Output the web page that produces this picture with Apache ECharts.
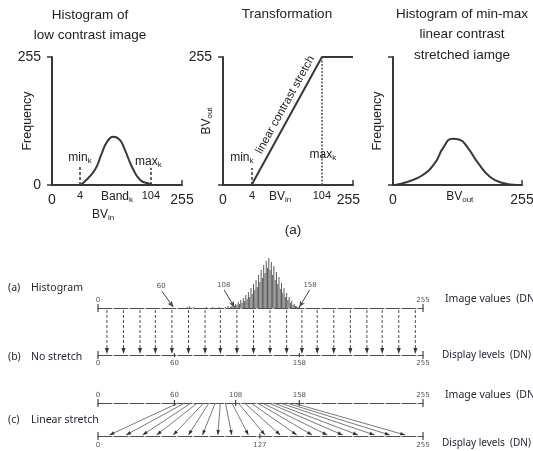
<!DOCTYPE html>
<html><head><meta charset="utf-8">
<script src="https://cdn.jsdelivr.net/npm/echarts@6/dist/echarts.min.js"></script>
<style>html,body{margin:0;padding:0;background:#fff}#c{width:533px;height:451px}</style>
</head><body><div id="c"></div>
<script>
// ================= DATA =================
// Top row: schematic BV axes (0..255 drawing units; the 4 / 104 marks sit where they are drawn)
const p1Curve = [[55,0],[61,4],[84,30],[98,64],[108,86],[120,96],[133,90],[143,70],[157,36],[173,10],[192,2],[196,0]];
const p1XTickPos = [0, 55, 127.5, 194, 255];
const p1XTickLabels = ['0', '4', 'Band_k', '104', '255'];
const p1YTickPos = [0, 255];
const p1YTickLabels = ['0', '255'];
const p1MinK = 55, p1MaxK = 194;

const p2Line = [[56,0],[194,255],[255,255]];
const p2XTickPos = [0, 57, 112, 194, 246];
const p2XTickLabels = ['0', '4', 'BV_in', '104', '255'];
const p2YTickPos = [255];
const p2YTickLabels = ['255'];
const p2MinK = 57, p2MaxK = 194;

const p3Curve = [[4,0],[28,6],[59,20],[83,44],[99,74],[117,92],[132,90],[148,74],[168,44],[192,16],[217,4],[245,0]];
const p3XTickPos = [0, 132, 255];
const p3XTickLabels = ['0', 'BV_out', '255'];

// Bottom: image values 0..255
const histBins = [70,72,75,85,90,95,100,102,
  104,105,106,107,108,109,110,111,112,113,114,115,116,117,118,119,120,121,122,123,124,125,126,127,128,129,130,
  131,132,133,134,135,136,137,138,139,140,141,142,143,144,145,146,147,148,149,150,151,152,153,154,155,156,157,158];
const histCounts = [1,2,1,1,1,1,1,2,
  1,2,3,2,4,3,6,4,8,5,10,7,13,9,16,11,20,14,24,18,28,21,33,26,38,30,43,
  35,47,40,50,38,46,33,42,28,36,24,31,19,25,15,20,11,15,8,11,5,7,3,4,2,2,1,1];
const histMarks = ['60', '108', '158'];
const noStretchArrows = [7,20,33,45,58,71,84,96,109,122,135,148,160,172,185,198,211,223,236,249];
const bTopLabels = ['0', '255'];
const bBottomLabels = ['0', '60', '158', '255'];
const linTop =    [63,68,73,78,83,87,92,96,100,105,110,115,120,125,129,134,138,143,148,153];
const linBottom = [9,22,35,46,59,71,82,94,105,118,131,143,156,168,180,192,204,217,229,241];
const cTopLabels = ['0', '60', '108', '158', '255'];
const cBottomLabels = ['0', '127', '255'];

// ================= STYLE =================
const TXT = '#222';
const AX = '#383838';
const SANS = '"Liberation Sans", Arial, sans-serif';
const HUM = '"Noto Sans", "Open Sans", sans-serif';
const SMALL = '#555';

const rich = {
  n: {fontSize: 14, lineHeight: 20, color: TXT, fontFamily: SANS},
  m: {fontSize: 11, lineHeight: 12, color: TXT, fontFamily: SANS},
  t: {fontSize: 12, color: TXT, fontFamily: SANS},
  s: {fontSize: 8, padding: [6,0,0,0], color: TXT, fontFamily: SANS}
};
function fmt(label) {
  if (label.indexOf('_') >= 0) {
    const [a, b] = label.split('_');
    return '{t|' + a + '}{s|' + b + '}';
  }
  if (label === '0' || label === '255') return '{n|' + label + '}';
  return '{m|' + label + '}';
}
function lookup(pos, labels) { return v => { const i = pos.indexOf(v); return i < 0 ? '' : fmt(labels[i]); }; }

const topGrids = [
  {left: 52, top: 57, width: 130, height: 128},
  {left: 223, top: 57, width: 130, height: 128},
  {left: 393, top: 57, width: 129, height: 128}
];
const bottomGrids = [
  {left: 98, top: 250, width: 325, height: 58},  // histogram
  {left: 98, top: 308, width: 325, height: 47},  // no stretch
  {left: 98, top: 403, width: 325, height: 33}   // linear stretch
];
const grids = topGrids.concat(bottomGrids).map(g => Object.assign({outerBoundsMode: 'none', containLabel: false}, g));

function topX(grid, pos, labels, name, endTick) {
  return {
    gridIndex: grid, type: 'value', min: 0, max: 255,
    axisLine: {show: true, onZero: false, lineStyle: {color: AX, width: 2}},
    axisTick: {show: endTick, inside: true, length: 5, customValues: [255], lineStyle: {color: AX, width: 1.5}},
    splitLine: {show: false},
    axisLabel: {show: true, margin: 5, customValues: pos, formatter: lookup(pos, labels), rich: rich},
    name: name, nameLocation: 'middle', nameGap: 23, nameMoveOverlap: false,
    nameTextStyle: {rich: rich, padding: [0, 28, 0, 0]}
  };
}
function topY(grid, pos, labels, name, nameGap) {
  return {
    gridIndex: grid, type: 'value', min: 0, max: 255,
    axisLine: {show: true, onZero: false, lineStyle: {color: AX, width: 2}},
    axisTick: {show: true, length: 5, customValues: [0, 255], lineStyle: {color: AX, width: 1.5}},
    splitLine: {show: false},
    axisLabel: {show: true, margin: 11, customValues: pos, formatter: lookup(pos, labels), rich: rich},
    name: name, nameLocation: 'middle', nameGap: nameGap, nameRotate: 90, nameMoveOverlap: false,
    nameTextStyle: {rich: rich, fontSize: 12.5, color: TXT, fontFamily: SANS}
  };
}
function botX(grid, position, labels, margin) {
  const pos = labels.map(Number);
  return {
    gridIndex: grid, type: 'value', min: 0, max: 255, position: position,
    axisLine: {show: true, onZero: false, lineStyle: {color: '#505050', width: 1, type: [14, 2]}},
    axisTick: {show: false},
    splitLine: {show: false},
    axisLabel: {show: labels.length > 0, margin: margin, customValues: pos, fontSize: 7, color: SMALL, fontFamily: '"DejaVu Sans", sans-serif'}
  };
}
function hidden(grid, max) {
  return {gridIndex: grid, type: 'value', min: 0, max: max, show: false};
}

const xAxes = [
  topX(0, p1XTickPos, p1XTickLabels, '{t|BV}{s|in}', true),
  topX(1, p2XTickPos, p2XTickLabels, '', true),
  topX(2, p3XTickPos, p3XTickLabels, '', true),
  hidden(3, 255),
  botX(4, 'top', bTopLabels, 4),
  botX(4, 'bottom', bBottomLabels, 5),
  botX(5, 'top', cTopLabels, 4),
  botX(5, 'bottom', cBottomLabels, 6)
];
const yAxes = [
  topY(0, p1YTickPos, p1YTickLabels, 'Frequency', 18),
  topY(1, p2YTickPos, p2YTickLabels, '{t|BV}{s|out}', 9),
  topY(2, [], [], 'Frequency', 9),
  hidden(3, 58),
  hidden(4, 1),
  hidden(5, 1)
];

function markLabel(coordX, coordY, name, padding) {
  return {coord: [coordX, coordY], name: name, symbolSize: 0,
          label: {show: true, position: 'inside', formatter: fmt(name), rich: rich, padding: padding || 0}};
}

// arrowhead helper for custom series
function arrow(x1, y1, x2, y2, len, half) {
  const dx = x2 - x1, dy = y2 - y1, L = Math.sqrt(dx*dx + dy*dy) || 1;
  const ux = dx / L, uy = dy / L;
  const bx = x2 - ux * len, by = y2 - uy * len;
  return [[x2, y2], [bx - uy * half, by + ux * half], [bx + uy * half, by - ux * half]];
}

const series = [
  // Panel 1
  {type: 'line', xAxisIndex: 0, yAxisIndex: 0, data: p1Curve, smooth: 0.5, symbol: 'none',
   lineStyle: {color: AX, width: 2}, silent: true,
   markLine: {silent: true, symbol: 'none', animation: false,
     lineStyle: {color: AX, width: 1.5, type: [3, 2]}, label: {show: false},
     data: [[{coord: [p1MinK, 0]}, {coord: [p1MinK, 40]}], [{coord: [p1MaxK, 0]}, {coord: [p1MaxK, 34]}]]},
   markPoint: {silent: true, animation: false, data: [markLabel(55, 54, 'min_k'), markLabel(189, 46, 'max_k')]}
  },
  // Panel 2
  {type: 'line', xAxisIndex: 1, yAxisIndex: 1, data: p2Line, symbol: 'none',
   lineStyle: {color: AX, width: 2}, silent: true,
   markLine: {silent: true, symbol: 'none', animation: false,
     lineStyle: {color: AX, width: 1.5, type: [3, 2]}, label: {show: false},
     data: [
       [{coord: [p2MinK, 0]}, {coord: [p2MinK, 34]}],
       [{coord: [p2MaxK, 0], lineStyle: {type: [2, 1.5], width: 1.5, color: '#555'}}, {coord: [p2MaxK, 255]}],
       [{coord: [81, 47], lineStyle: {color: 'rgba(0,0,0,0)', width: 0.1},
         label: {show: true, position: 'insideMiddleTop', distance: 3, formatter: 'linear contrast stretch',
                 fontSize: 11.5, color: TXT, fontFamily: SANS}},
        {coord: [194, 255]}]
     ]},
   markPoint: {silent: true, animation: false, data: [markLabel(37, 54, 'min_k'), markLabel(196, 60, 'max_k')]}
  },
  // Panel 3
  {type: 'line', xAxisIndex: 2, yAxisIndex: 2, data: p3Curve, smooth: 0.5, symbol: 'none',
   lineStyle: {color: AX, width: 2}, silent: true},
  // Histogram (a)
  {type: 'bar', xAxisIndex: 3, yAxisIndex: 3, barWidth: 1, silent: true,
   data: histBins.map((b, i) => [b, histCounts[i]]),
   itemStyle: {color: '#5a5a5a'},
   markLine: {silent: true, animation: false, symbol: ['none', 'arrow'], symbolSize: [4, 6],
     lineStyle: {color: '#444', width: 1, type: 'solid'},
     label: {show: true, position: 'start', distance: 1, formatter: '{b}', fontSize: 7, color: SMALL, fontFamily: '"DejaVu Sans", sans-serif'},
     data: [
       [{coord: [50, 17], name: histMarks[0]}, {coord: [59, 1]}],
       [{coord: [99, 18], name: histMarks[1]}, {coord: [107, 1]}],
       [{coord: [166, 18], name: histMarks[2]}, {coord: [158, 1]}]
     ]}
  },
  // No stretch arrows (b)
  {type: 'custom', xAxisIndex: 4, yAxisIndex: 4, silent: true, clip: false,
   data: noStretchArrows.map(v => [v, 1]),
   renderItem: function (params, api) {
     const v = api.value(0);
     const t = api.coord([v, 1]), b = api.coord([v, 0]);
     const x = t[0], y1 = t[1] + 2, y2 = b[1] - 1;
     return {type: 'group', children: [
       {type: 'line', shape: {x1: x, y1: y1, x2: x, y2: y2 - 5}, style: {stroke: '#505050', lineWidth: 1, lineDash: [3, 2]}},
       {type: 'polygon', shape: {points: arrow(x, y1, x, y2, 6, 2)}, style: {fill: '#333'}}
     ]};
   }
  },
  // Linear stretch lines (c)
  {type: 'custom', xAxisIndex: 6, yAxisIndex: 5, silent: true, clip: false,
   data: linTop.map((t, i) => [t, linBottom[i]]),
   renderItem: function (params, api) {
     const p1 = api.coord([api.value(0), 1]), p2 = api.coord([api.value(1), 0]);
     const y2 = p2[1] - 1;
     return {type: 'group', children: [
       {type: 'line', shape: {x1: p1[0], y1: p1[1], x2: p2[0], y2: y2}, style: {stroke: '#6a6a6a', lineWidth: 0.9}},
       {type: 'polygon', shape: {points: arrow(p1[0], p1[1], p2[0], y2, 5, 1.8)}, style: {fill: '#333'}}
     ]};
   }
  },
  // End ticks (b)
  {type: 'custom', xAxisIndex: 4, yAxisIndex: 4, silent: true, clip: false,
   data: [[0,1,4],[255,1,4],[0,0,4],[255,0,4],[60,0,2],[158,0,2]],
   renderItem: tickRender
  },
  // Ticks (c)
  {type: 'custom', xAxisIndex: 6, yAxisIndex: 5, silent: true, clip: false,
   data: [[0,1,4],[60,1,3],[108,1,3],[158,1,3],[255,1,4],[0,0,4],[127,0,2.5],[255,0,4]],
   renderItem: tickRender
  }
];
function tickRender(params, api) {
  const p = api.coord([api.value(0), api.value(1)]);
  const h = api.value(2);
  return {type: 'line', shape: {x1: p[0], y1: p[1] - h, x2: p[0], y2: p[1] + h}, style: {stroke: '#444', lineWidth: 1.2}};
}

const titleStyle = {fontSize: 13.5, fontWeight: 'normal', color: TXT, fontFamily: SANS, lineHeight: 20.5};
const titles = [
  {text: 'Histogram of\nlow contrast image', left: 90, top: 5, textAlign: 'center', textStyle: titleStyle},
  {text: 'Transformation', left: 287, top: 4, textAlign: 'center', textStyle: titleStyle},
  {text: 'Histogram of min-max\nlinear contrast\nstretched iamge', left: 462, top: 4, textAlign: 'center', textStyle: titleStyle},
  {text: '(a)', left: 293, top: 220, textAlign: 'center', textStyle: titleStyle}
].map(t => Object.assign({padding: 0}, t));

const LBL = '#1e2130';
function gtext(x, y, text, size) {
  return {type: 'text', x: x, y: y, silent: true,
          style: {text: text, fontSize: size || 10.5, fontFamily: HUM, fill: LBL, align: 'left', verticalAlign: 'middle'}};
}
const graphics = [
  gtext(8, 288, '(a)'), gtext(31, 288, 'Histogram'),
  gtext(8, 357, '(b)'), gtext(31, 357, 'No stretch'),
  gtext(8, 420, '(c)'), gtext(31, 420, 'Linear stretch'),
  gtext(445, 299, 'Image values  (DN)'),
  gtext(442, 355, 'Display levels  (DN)', 10),
  gtext(445, 395, 'Image values  (DN)'),
  gtext(442, 443, 'Display levels  (DN)', 10)
];

const chart = echarts.init(document.getElementById('c'), null, {renderer: 'canvas'});
chart.setOption({
  animation: false,
  backgroundColor: '#fff',
  title: titles,
  grid: grids,
  xAxis: xAxes,
  yAxis: yAxes,
  series: series,
  graphic: graphics
});
</script></body></html>
